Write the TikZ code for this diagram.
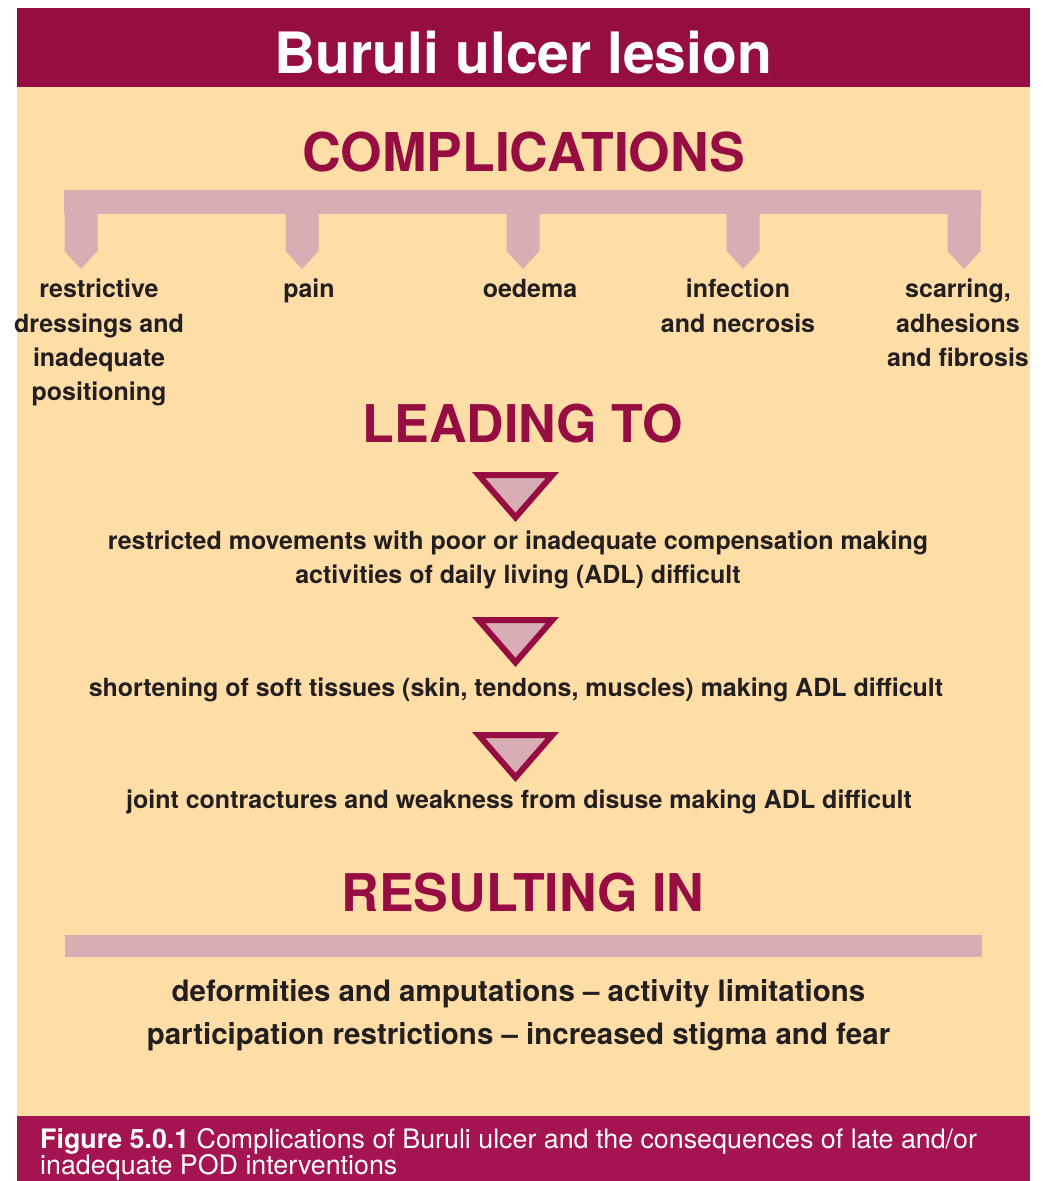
\documentclass[tikz,border=0pt]{standalone}
\usepackage{fontspec}
\setmainfont{TeX Gyre Heros}
\usepackage{xcolor}
\usepackage{tikz}
\usetikzlibrary{positioning}

\definecolor{ulcermaroon}{HTML}{960D42}
\definecolor{captionmaroon}{HTML}{A31450}
\definecolor{creambg}{HTML}{FEDDA6}
\definecolor{bracketpink}{HTML}{D8ADB3}
\definecolor{textdark}{HTML}{231F20}

\begin{document}
\begin{tikzpicture}[
        x=1pt, y=-1pt,
        title/.style={text=white, font=\fontsize{57}{60}\selectfont\bfseries, inner sep=0pt, anchor=base},
        heading/.style={text=ulcermaroon, font=\fontsize{52}{56}\selectfont\bfseries, inner sep=0pt, anchor=base},
        cause/.style={text=textdark, font=\fontsize{25}{34.3}\selectfont\bfseries, align=center, inner sep=0pt},
        effect/.style={text=textdark, font=\fontsize{25}{34}\selectfont\bfseries, align=center, inner sep=0pt},
        result/.style={text=textdark, font=\fontsize{29.5}{43}\selectfont\bfseries, align=center, inner sep=0pt},
        caption/.style={text=white, font=\fontsize{26.8}{26}\selectfont, align=left, inner sep=0pt},
        branch/.style={fill=bracketpink},
        stepdown/.style={draw=ulcermaroon, fill=bracketpink, line width=6pt, line join=miter}
    ]
    \useasboundingbox (0,0) rectangle (1043,1181);

    % Panels
    \fill[creambg] (17,87) rectangle (1030,1116);
    \fill[ulcermaroon] (17,8) rectangle (1030,87);
    \fill[captionmaroon] (17,1116) rectangle (1030,1181);

    % Title and headings
    \node [title] (title) at (523.5,73) {Buruli ulcer lesion};
    \node [heading, font=\fontsize{53.5}{56}\selectfont\bfseries] (complications) at (523.5,171) {COMPLICATIONS};
    \node [heading] (leading) at (523,442) {LEADING TO};
    \node [heading] (resulting) at (523,911) {RESULTING IN};

    % Bracket with five branches
    \fill [branch] (64,190) rectangle (981,214);
    \foreach \x [count=\i] in {81,302,523,743,964} {
        \fill [branch] (\x-16.5,213) -- (\x+16.5,213) -- (\x+16.5,251) -- (\x,269) -- (\x-16.5,251) -- cycle;
        \coordinate (tip\i) at (\x,269);
    }

    % Complications
    \node [cause, below=10pt of tip1, xshift=18pt] (dressings) {restrictive\\dressings and\\inadequate\\positioning};
    \node [cause, below=10pt of tip2, xshift=7pt] (pain) {pain};
    \node [cause, below=10pt of tip3, xshift=7pt] (oedema) {oedema};
    \node [cause, below=10pt of tip4, xshift=-5pt] (infection) {infection\\and necrosis};
    \node [cause, below=10pt of tip5, xshift=-6pt] (scarring) {scarring,\\adhesions\\and fibrosis};

    % Chain of consequences
    \foreach \yt in {472,617,732} {
        \draw [stepdown] (478.6,\yt+3) -- (552.4,\yt+3) -- (515.5,\yt+45.4) -- cycle;
    }
    \node [effect, anchor=north] (movements) at (518,531) {restricted movements with poor or inadequate compensation making\\activities of daily living (ADL) difficult};
    \node [effect, anchor=base] (shortening) at (516,696) {shortening of soft tissues (skin, tendons, muscles) making ADL difficult};
    \node [effect, anchor=base] (contractures) at (519,808) {joint contractures and weakness from disuse making ADL difficult};

    % Result bar and outcome
    \fill [branch] (65,935) rectangle (982,957);
    \node [result, anchor=north] (outcome) at (518.5,979) {deformities and amputations – activity limitations\\participation restrictions – increased stigma and fear};

    % Caption
    \node [caption, anchor=north west] (figcaption) at (40,1128.5) {\textbf{Figure 5.0.1} Complications of Buruli ulcer and the consequences of late and/or\\inadequate POD interventions};
\end{tikzpicture}
\end{document}
